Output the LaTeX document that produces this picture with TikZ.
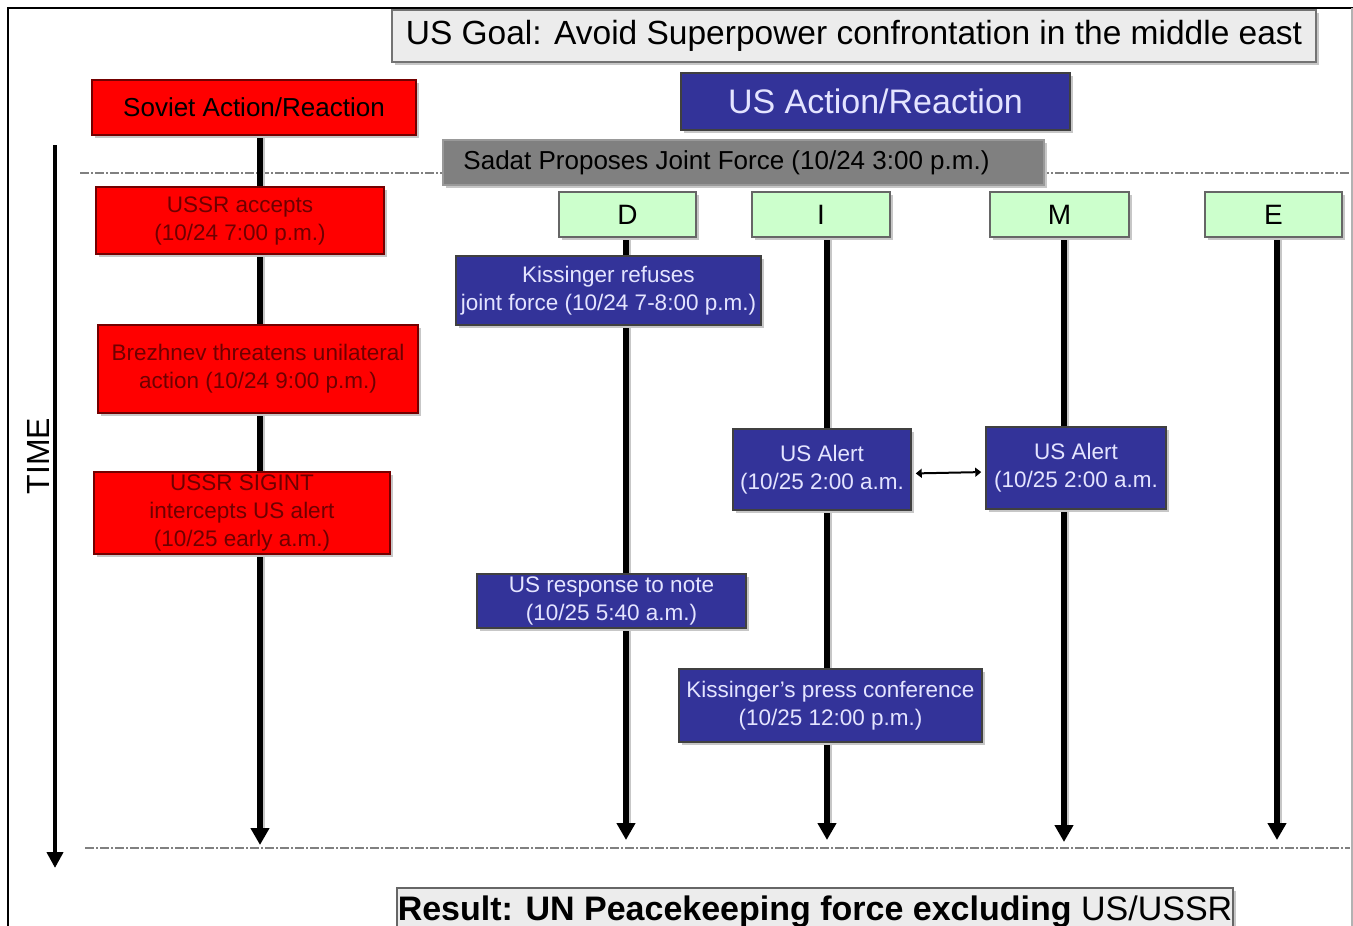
\documentclass[tikz,border=0pt]{standalone}
\usepackage{fontspec}
\setmainfont{Liberation Sans}
\usetikzlibrary{arrows.meta,shadows,backgrounds}
\definecolor{ublue}{RGB}{51,51,153}
\definecolor{utext}{RGB}{228,228,255}
\definecolor{rtext}{RGB}{110,0,0}
\definecolor{ugreen}{RGB}{204,255,204}
\definecolor{lgray}{RGB}{236,236,236}
\definecolor{mgray}{RGB}{128,128,128}
\newcommand{\fsz}[2]{\fontsize{#1}{#2}\selectfont}
\tikzset{
  box/.style={inner sep=0pt, align=center, line width=1.5pt,
    drop shadow={shadow xshift=3pt, shadow yshift=-3pt, fill=black!22, opacity=1}},
  redbox/.style={box, fill=red, draw=red!45!black, text=rtext, font=\fsz{22.5}{28}},
  bluebox/.style={box, fill=ublue, draw=black!75, text=utext, font=\fsz{22.5}{28}},
  greenbox/.style={box, fill=ugreen, draw=black!60, font=\fsz{28}{30}},
  timeline/.style={line width=5.5pt, -{Triangle[width=18pt,length=17pt]}},
  shadowline/.style={draw=black!22, line width=5.5pt},
  sepline/.style={draw=mgray, line width=2pt, dash pattern=on 9pt off 2pt on 2pt off 2pt},
}
\begin{document}
\begin{tikzpicture}[x=1pt,y=-1pt]
\useasboundingbox (0,0) rectangle (1353,926);
% frame
\draw[line width=1.5pt] (8,926) -- (8,8) -- (1353,8);
\draw[black!30, line width=1.5pt] (1352,8) -- (1352,926);

% headers
\node[box, fill=lgray, draw=black!55, minimum width=924pt, minimum height=52pt, font=\fsz{33.5}{35}] (goal) at (854,36) {US Goal: Avoid Superpower confrontation in the middle east};
\node[box, fill=red, draw=red!45!black, minimum width=324pt, minimum height=55pt, font=\fsz{26}{28}] (sov) at (254,107.5) {Soviet Action/Reaction};
\node[box, fill=ublue, draw=black!75, text=utext, minimum width=389pt, minimum height=57pt, font=\fsz{34}{36}] (usar) at (875.5,101.5) {US Action/Reaction};
\node[box, fill=mgray, draw=black!40, minimum width=601pt, minimum height=45pt, font=\fsz{26}{28}] (sadat) at (743.5,162.5) {Sadat Proposes Joint Force (10/24 3:00 p.m.)\hspace*{34pt}};

% soviet column
\node[redbox, minimum width=288pt, minimum height=67pt] (ussr1) at (240,220.5) {USSR accepts\\(10/24 7:00 p.m.)};
\node[redbox, minimum width=320pt, minimum height=88pt] (brezh) at (258,369) {Brezhnev threatens unilateral\\action (10/24 9:00 p.m.)};
\node[redbox, minimum width=296pt, minimum height=82pt] (sigint) at (242,513) {USSR SIGINT\\intercepts US alert\\(10/25 early a.m.)};

% DIME
\node[greenbox, minimum width=137pt, minimum height=45pt] (D) at (627.5,214.5) {D};
\node[greenbox, minimum width=138pt, minimum height=45pt] (I) at (821,214.5) {I};
\node[greenbox, minimum width=139pt, minimum height=45pt] (M) at (1059.5,214.5) {M};
\node[greenbox, minimum width=137pt, minimum height=45pt] (E) at (1273.5,214.5) {E};

% US events
\node[bluebox, minimum width=305pt, minimum height=69pt] (kref) at (608.5,290.5) {Kissinger refuses\\joint force (10/24 7-8:00 p.m.)};
\node[bluebox, minimum width=178pt, minimum height=81pt] (al1) at (822,469.5) {US Alert\\(10/25 2:00 a.m.};
\node[bluebox, minimum width=180pt, minimum height=82pt] (al2) at (1076,468) {US Alert\\(10/25 2:00 a.m.};
\node[bluebox, minimum width=269pt, minimum height=54pt] (resp) at (611.5,601) {US response to note\\(10/25 5:40 a.m.)};
\node[bluebox, minimum width=303pt, minimum height=73pt] (press) at (830.5,705.5) {Kissinger's press conference\\(10/25 12:00 p.m.)};

% result
\node[box, fill=lgray, draw=black!60, minimum width=836pt, minimum height=47pt, font=\fsz{34}{36}] (result) at (815,911.5) {\textbf{Result: UN Peacekeeping force excluding} US/USSR};

% TIME
\node[rotate=90, font=\fsz{32}{34}] (time) at (38,456) {TIME};

% end coordinates
\coordinate (tstart) at (55,145);
\coordinate (tend) at (55,868);
\coordinate (sovend) at (260,845);
\coordinate (Dend) at (626,840);
\coordinate (Iend) at (827,840);
\coordinate (Mend) at (1064,842);
\coordinate (Eend) at (1277,840);
\coordinate (sepA1) at (80,173);
\coordinate (sepA2) at (1350,173);
\coordinate (sepB1) at (85,848);
\coordinate (sepB2) at (1350,848);

\begin{scope}[on background layer]
\draw[sepline] (sepA1) -- (sepA2);
\draw[sepline] (sepB1) -- (sepB2);
\foreach \n/\e in {sov/sovend, D/Dend, I/Iend, M/Mend, E/Eend}{
  \draw[shadowline] ([xshift=2.5pt]\n.south -| \e) -- ([xshift=2.5pt,yshift=10pt]\e);
  \draw[timeline] (\n.south -| \e) -- (\e);
}
\end{scope}
\draw[line width=4.5pt, -{Triangle[width=16pt,length=16pt]}] (tstart) -- (tend);
\draw[line width=2pt, {Triangle[width=9pt,length=6pt]}-{Triangle[width=9pt,length=6pt]}, shorten <=4pt, shorten >=4pt] ([yshift=-4pt]al1.east) -- ([yshift=-4pt]al2.west);
\end{tikzpicture}
\end{document}
